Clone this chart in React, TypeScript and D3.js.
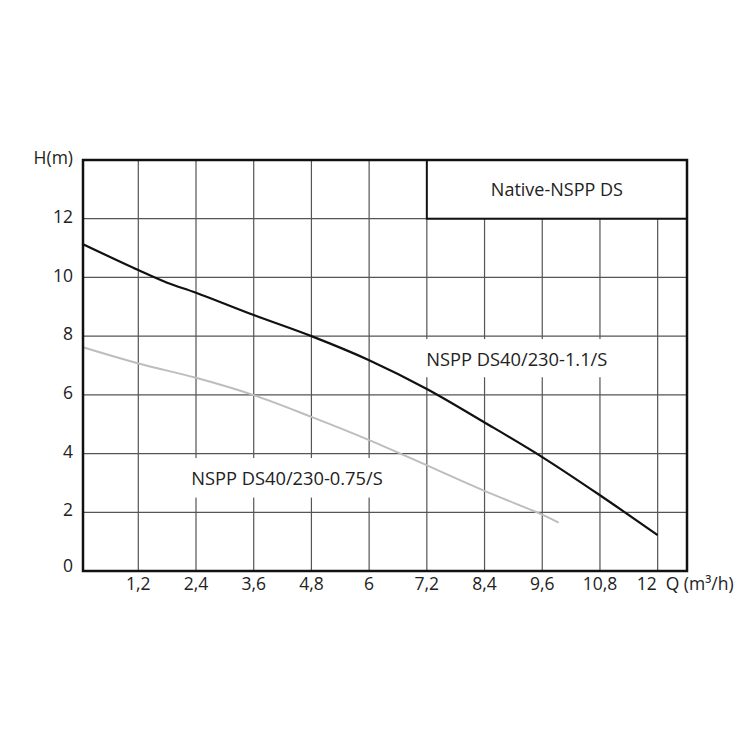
import React from "react";
import * as d3 from "d3";

const xTicks = [1.2, 2.4, 3.6, 4.8, 6, 7.2, 8.4, 9.6, 10.8, 12];
const xTickLabels = ["1,2", "2,4", "3,6", "4,8", "6", "7,2", "8,4", "9,6", "10,8", "12"];
const yTicks = [0, 2, 4, 6, 8, 10, 12];
const yGrid = [2, 4, 6, 8, 10, 12];

const curve11Q = [0.05, 1.2, 1.8, 2.4, 3.6, 4.8, 6, 7.2, 8.4, 9.6, 10.8, 12];
const curve11H = [11.13, 10.25, 9.82, 9.48, 8.72, 8.0, 7.18, 6.2, 5.06, 3.88, 2.58, 1.22];
const curve075Q = [0.05, 1.2, 2.4, 3.6, 4.8, 6, 7.2, 8.4, 9.6, 9.94];
const curve075H = [7.62, 7.07, 6.58, 5.99, 5.25, 4.46, 3.6, 2.73, 1.92, 1.65];

const title = "Native-NSPP DS";
const label11 = "NSPP DS40/230-1.1/S";
const label075 = "NSPP DS40/230-0.75/S";
const xUnit = "Q (m³/h)";
const yUnit = "H(m)";

export default function App() {
  const W = 750, H = 750;
  const x = d3.scaleLinear().domain([0.05, 12.61]).range([83, 687]);
  const y = d3.scaleLinear().domain([0, 14]).range([571, 160]);
  const font = "'Open Sans', sans-serif";
  const txt = "#222";
  const line = d3
    .line<[number, number]>()
    .x((d) => x(d[0]))
    .y((d) => y(d[1]))
    .curve(d3.curveCatmullRom.alpha(0.5));
  const d11 = line(curve11Q.map((q, i) => [q, curve11H[i]]))!;
  const d075 = line(curve075Q.map((q, i) => [q, curve075H[i]]))!;
  const gridColor = "#555";
  const lastTick = xTicks[xTicks.length - 1];

  return (
    <svg width={W} height={H} style={{ position: "absolute", left: 0, top: 0, background: "#fff" }}>
      <rect x={0} y={0} width={W} height={H} fill="#fff" />
      {/* grid */}
      {xTicks.map((t) => (
        <line key={"vx" + t} x1={x(t)} x2={x(t)} y1={y(0)} y2={y(14)} stroke={gridColor} strokeWidth={1.2} />
      ))}
      {yGrid.map((t) => (
        <line key={"hy" + t} x1={x(0.05)} x2={x(12.61)} y1={y(t)} y2={y(t)} stroke={gridColor} strokeWidth={1.2} />
      ))}
      {/* label backgrounds */}
      <rect x={x(7.0)} y={y(7.9)} width={x(10.9) - x(7.0)} height={y(6.6) - y(7.9)} fill="#fff" />
      <rect x={x(2.05)} y={y(3.85)} width={x(6.3) - x(2.05)} height={y(2.5) - y(3.85)} fill="#fff" />
      {/* curves */}
      <path d={d075} fill="none" stroke="#bdbdbd" strokeWidth={2} />
      <path d={d11} fill="none" stroke="#111" strokeWidth={2.2} />
      {/* title box */}
      <rect x={x(7.2)} y={y(14)} width={x(12.61) - x(7.2)} height={y(12) - y(14)} fill="#fff" stroke="#111" strokeWidth={2} />
      <text x={(x(7.2) + x(12.61)) / 2} y={y(13)} dy="0.35em" textAnchor="middle" fontFamily={font} fontSize={18} fill={txt}>
        {title}
      </text>
      {/* border */}
      <rect x={x(0.05)} y={y(14)} width={x(12.61) - x(0.05)} height={y(0) - y(14)} fill="none" stroke="#111" strokeWidth={2.5} />
      {/* curve labels */}
      <text x={x(7.25) - 3} y={(y(7.9) + y(6.6)) / 2 + 1} dy="0.35em" textAnchor="start" fontFamily={font} fontSize={18.3} fill={txt}>
        {label11}
      </text>
      <text x={x(2.3)} y={(y(3.85) + y(2.5)) / 2 + 1} dy="0.35em" textAnchor="start" fontFamily={font} fontSize={18.3} fill={txt}>
        {label075}
      </text>
      {/* y axis labels */}
      {yTicks.map((t) => (
        <text key={"yl" + t} x={73} y={y(t) - (t === 0 ? 5 : 2)} dy="0.35em" textAnchor="end" fontFamily={font} fontSize={17.5} fill={txt}>
          {t}
        </text>
      ))}
      <text x={73} y={y(14)} dy="0.2em" textAnchor="end" fontFamily={font} fontSize={17.5} fill={txt}>
        {yUnit}
      </text>
      {/* x axis labels */}
      {xTicks.map((t, i) => (
        <text
          key={"xl" + t}
          x={t === lastTick ? x(t) - 1 : x(t)}
          y={590}
          textAnchor={t === lastTick ? "end" : "middle"}
          fontFamily={font}
          fontSize={17.5}
          fill={txt}
        >
          {xTickLabels[i]}
        </text>
      ))}
      <text x={x(lastTick) + 8} y={590} textAnchor="start" fontFamily={font} fontSize={17.5} fill={txt}>
        {xUnit}
      </text>
    </svg>
  );
}
